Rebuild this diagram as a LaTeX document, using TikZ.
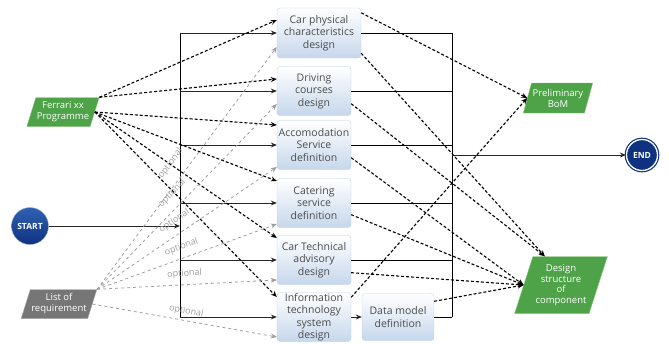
\documentclass[tikz,border=0pt]{standalone}
\usepackage{fontspec}
\setmainfont{Open Sans}
\usetikzlibrary{shapes.geometric,arrows.meta}

\definecolor{taskedge}{RGB}{190,208,230}
\definecolor{taskfill}{RGB}{198,215,236}
\definecolor{datagreen}{RGB}{78,162,72}
\definecolor{dataedge}{RGB}{140,200,130}
\definecolor{reqgray}{RGB}{118,118,118}
\definecolor{evblue}{RGB}{14,50,128}
\definecolor{evlight}{RGB}{48,98,178}
\definecolor{optgray}{RGB}{158,158,158}

\tikzset{
  task/.style={draw=taskedge, rounded corners=3pt, top color=white, bottom color=taskfill,
    align=center, text=black!70, font=\fontsize{10.5}{12.5}\selectfont,
    minimum width=74pt, minimum height=49pt, inner xsep=1pt, inner ysep=0pt},
  data/.style={trapezium, trapezium left angle=68, trapezium right angle=112,
    trapezium stretches=true, fill=datagreen, draw=dataedge, text=white,
    align=center, font=\fontsize{9.5}{11}\selectfont, inner sep=1pt},
  event/.style={circle, minimum size=37pt, inner sep=0pt, text=white,
    font=\fontsize{8.5}{9}\selectfont\bfseries},
  flow/.style={line width=1pt, black!85, -{Stealth[length=6pt,width=5pt]}},
  info/.style={line width=1.1pt, dash pattern=on 3pt off 2pt, -{Stealth[length=6pt,width=5pt]}},
  opt/.style={line width=0.8pt, optgray, dash pattern=on 3pt off 3pt, -{Stealth[length=6pt,width=5pt]}},
  optlbl/.style={sloped, text=optgray, font=\fontsize{9}{10}\selectfont, inner sep=2pt},
}

\begin{document}
\begin{tikzpicture}[x=1pt,y=-1pt]
  \useasboundingbox (0,0) rectangle (669,343);
  \coordinate (ltrunk) at (180,33);
  \coordinate (rtrunk) at (452,33);

  \node[task, minimum width=84pt, minimum height=50pt] (cpd) at (319,33) {Car physical\\characteristics\\design};
  \node[task] (dcd) at (314,91) {Driving\\courses\\design};
  \node[task] (asd) at (314,145) {Accomodation\\Service\\definition};
  \node[task] (csd) at (314,203) {Catering\\service\\definition};
  \node[task] (ctd) at (314,260) {Car Technical\\advisory\\design};
  \node[task] (itd) at (314,317) {Information\\technology\\system\\design};
  \node[task, minimum width=72pt, minimum height=47pt] (dmd) at (398,317) {Data model\\definition};

  \node[data, minimum width=72pt, minimum height=29pt] (ferrari) at (63,112) {Ferrari xx\\Programme};
  \node[data, fill=reqgray, draw=reqgray!60!white, minimum width=72pt, minimum height=29pt] (req) at (59,304) {List of\\requirement};
  \node[data, minimum width=70pt, minimum height=30pt] (bom) at (558,98) {Preliminary\\BoM};
  \node[data, minimum width=93pt, minimum height=57pt, font=\fontsize{9.5}{10.5}\selectfont] (dsc) at (561,285) {Design\\structure\\of\\component};

  \node[event, top color=evlight, bottom color=evblue, draw=evlight!50!white] (startev) at (30,226) {START};
  \node[event, fill=evblue, draw=evblue, line width=1.2pt, double=white, double distance=1.3pt, minimum size=31pt] (endev) at (642,155) {END};

  \draw[line width=1pt] (ltrunk) -- (ltrunk |- itd);
  \foreach \t in {cpd,dcd,asd,csd,ctd,itd}
    \draw[flow] (ltrunk |- \t) -- (\t);
  \draw[flow] (startev) -- (startev -| ltrunk);

  \draw[line width=1pt] (rtrunk) -- (rtrunk |- dmd);
  \foreach \t in {cpd,dcd,asd,csd,ctd,dmd}
    \draw[line width=1pt] (\t) -- (\t -| rtrunk);
  \draw[flow] (rtrunk |- endev) -- (endev);
  \draw[flow] (itd) -- (dmd);

  \draw[info] (ferrari.top right corner) -- ([yshift=13pt]cpd.west);
  \draw[info] (ferrari.top right corner) -- ([yshift=12pt]dcd.west);
  \draw[info] (ferrari.east) -- ([yshift=20pt]asd.west);
  \draw[info] (ferrari.east) -- ([yshift=22pt]csd.west);
  \draw[info] (ferrari.east) -- ([yshift=22pt]ctd.west);
  \draw[info] (ferrari.east) -- ([yshift=20pt]itd.west);

  \draw[opt] (req.top right corner) -- node[optlbl, pos=0.48, above=9pt] {optional} ([yshift=-14pt]cpd.west);
  \draw[opt] (req.top right corner) -- node[optlbl, pos=0.47, above=6pt] {optional} ([yshift=-13pt]dcd.west);
  \draw[opt] (req.top right corner) -- node[optlbl, pos=0.47, above=6pt] {optional} ([yshift=-22pt]asd.west);
  \draw[opt] (req.top right corner) -- node[optlbl, pos=0.49, above=4pt] {optional} ([yshift=-21pt]csd.west);
  \draw[opt] (req.top right corner) -- node[optlbl, pos=0.49, above=4pt] {optional} ([yshift=-20pt]ctd.west);
  \draw[opt] (req.east) -- node[optlbl, pos=0.5, above=2pt] {optional} ([yshift=-20pt]itd.west);

  \draw[info] ([yshift=-5pt]cpd.north east) -- (bom.west);
  \draw[info] ([yshift=5pt]cpd.south east) -- ([xshift=12pt]dsc.top left corner);
  \draw[info] ([yshift=12pt]dcd.south east) -- ([xshift=12pt]dsc.top left corner);
  \draw[info] ([yshift=12pt]asd.south east) -- (dsc.west);
  \draw[info] ([yshift=13pt]csd.south east) -- (dsc.west);
  \draw[info] ([yshift=12pt]ctd.south east) -- (dsc.west);
  \draw[info] ([yshift=-5pt]itd.north east) -- (bom.west);
  \draw[info] ([yshift=-8pt]dmd.north east) -- (dsc.west);
\end{tikzpicture}
\end{document}
